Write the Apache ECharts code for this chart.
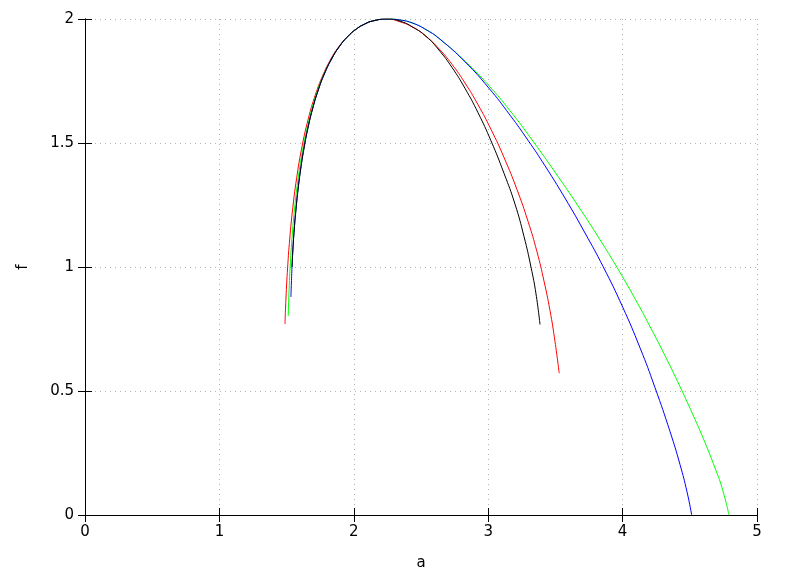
<!DOCTYPE html>
<html>
<head>
<meta charset="utf-8">
<script src="https://cdn.jsdelivr.net/npm/echarts@6/dist/echarts.min.js"></script>
<style>
html,body{margin:0;padding:0;background:#fff;}
#chart{width:788px;height:576px;}
</style>
</head>
<body>
<div id="chart"></div>
<script>
// tick values
const xTicks = [0, 1, 2, 3, 4, 5];
const yTicks = [0, 0.5, 1, 1.5, 2];

// curves: [a, f]
const redCurve = [
  [1.4882,0.7702],[1.4950,0.8710],[1.5079,1.0000],[1.5233,1.1129],[1.5451,1.2339],
  [1.5738,1.3548],[1.6113,1.4758],[1.6611,1.5968],[1.7161,1.6976],[1.7737,1.7782],
  [1.8293,1.8387],[1.8865,1.8871],[1.9513,1.9274],[2.0192,1.9597],[2.0815,1.9798],
  [2.1398,1.9919],[2.2470,2.0000],[2.3438,1.9886],[2.4405,1.9666],[2.5372,1.9302],
  [2.6339,1.8801],[2.7307,1.8172],[2.8274,1.7419],[2.9241,1.6546],[3.0208,1.5550],
  [3.1176,1.4418],[3.2143,1.3120],[3.2961,1.1845],[3.3631,1.0611],[3.4152,0.9431],
  [3.4598,0.8246],[3.4970,0.6996],[3.5283,0.5718]
];
const greenCurve = [
  [1.5121,0.8024],[1.5173,0.8911],[1.5264,1.0000],[1.5397,1.1129],[1.5592,1.2339],
  [1.5857,1.3548],[1.6210,1.4758],[1.6685,1.5968],[1.7216,1.6976],[1.7778,1.7782],
  [1.8345,1.8387],[1.8901,1.8871],[1.9513,1.9274],[2.0192,1.9597],[2.0815,1.9798],
  [2.1398,1.9919],[2.2470,2.0000],[2.3438,1.9960],[2.4405,1.9830],[2.5446,1.9548],
  [2.6414,1.9185],[2.8274,1.8298],[3.0037,1.7319],[3.1622,1.6302],[3.3333,1.5073],
  [3.4970,1.3827],[3.6682,1.2468],[3.8318,1.1101],[3.9583,0.9984],[4.0923,0.8722],
  [4.2039,0.7601],[4.3155,0.6423],[4.4271,0.5177],[4.5387,0.3855],[4.6131,0.2919],
  [4.6875,0.1899],[4.7396,0.1101],[4.7917,0.0000]
];
const blueCurve = [
  [1.5320,0.8790],[1.5357,0.9355],[1.5402,1.0000],[1.5470,1.0726],[1.5570,1.1532],
  [1.5699,1.2339],[1.5855,1.3145],[1.6048,1.3952],[1.6283,1.4758],[1.6572,1.5565],
  [1.6930,1.6371],[1.7382,1.7177],[1.7808,1.7782],[1.8345,1.8387],[1.8901,1.8871],
  [1.9513,1.9274],[2.0192,1.9597],[2.0815,1.9798],[2.1398,1.9919],[2.2470,2.0000],
  [2.3438,1.9960],[2.4405,1.9830],[2.5446,1.9548],[2.6414,1.9185],[2.8274,1.8274],
  [3.0037,1.7222],[3.1622,1.6125],[3.2961,1.5109],[3.4226,1.4081],[3.5938,1.2573],
  [3.7202,1.1371],[3.8564,1.0004],[4.0000,0.8391],[4.1295,0.6742],[4.2411,0.5137],
  [4.3527,0.3367],[4.4271,0.2036],[4.4792,0.0935],[4.5141,0.0000]
];
const blackCurve = [
  [1.5402,1.0000],[1.5470,1.0726],[1.5570,1.1532],[1.5699,1.2339],[1.5855,1.3145],
  [1.6048,1.3952],[1.6283,1.4758],[1.6572,1.5565],[1.6930,1.6371],[1.7382,1.7177],
  [1.7808,1.7782],[1.8345,1.8387],[1.8901,1.8871],[1.9513,1.9274],[2.0192,1.9597],
  [2.0815,1.9798],[2.1398,1.9919],[2.2470,2.0000],[2.3438,1.9916],[2.4405,1.9667],
  [2.5372,1.9301],[2.6339,1.8745],[2.7307,1.8045],[2.8274,1.7204],[2.9241,1.6223],
  [3.0208,1.5088],[3.1176,1.3778],[3.1994,1.2536],[3.2664,1.1229],[3.3185,0.9994],
  [3.3557,0.8915],[3.3854,0.7681]
];

const FONT = 'DejaVu Sans';
const chart = echarts.init(document.getElementById('chart'), null, {renderer: 'canvas'});

function xAx(pos, main) {
  return {
    type: 'value', position: pos, min: xTicks[0], max: xTicks[xTicks.length-1], interval: 1,
    axisLine: {show: true, lineStyle: {color: '#000', width: 1}},
    axisTick: {show: true, inside: true, length: 7, lineStyle: {color: '#000', width: 1}},
    axisLabel: {show: main, margin: 10, color: '#000', fontFamily: FONT, fontSize: 15},
    splitLine: {show: main, lineStyle: {color: '#b0b0b0', width: 1, type: [1, 4]}},
    name: main ? 'a' : '', nameLocation: 'middle', nameGap: 41,
    nameTextStyle: {color: '#000', fontFamily: FONT, fontSize: 15}
  };
}
function yAx(pos, main) {
  return {
    type: 'value', position: pos, min: yTicks[0], max: yTicks[yTicks.length-1], interval: 0.5,
    axisLine: {show: true, lineStyle: {color: '#000', width: 1}},
    axisTick: {show: true, inside: true, length: 7, lineStyle: {color: '#000', width: 1}},
    axisLabel: {show: main, margin: 11, color: '#000', fontFamily: FONT, fontSize: 15},
    splitLine: {show: main, lineStyle: {color: '#b0b0b0', width: 1, type: [1, 4]}},
    name: main ? 'f' : '', nameLocation: 'middle', nameGap: 54, nameRotate: 90,
    nameTextStyle: {color: '#000', fontFamily: FONT, fontSize: 15}
  };
}
function line(data, color) {
  return {
    type: 'line', data: data, xAxisIndex: 0, yAxisIndex: 0,
    showSymbol: false, symbol: 'none', smooth: 0.5,
    lineStyle: {color: color, width: 1}, itemStyle: {color: color},
    animation: false
  };
}

chart.setOption({
  animation: false,
  backgroundColor: '#fff',
  grid: {left: 85, top: 19, width: 672, height: 496, containLabel: false},
  xAxis: [xAx('bottom', true), xAx('top', false)],
  yAxis: [yAx('left', true), yAx('right', false)],
  series: [
    line(redCurve, '#ff0000'),
    line(greenCurve, '#00ff00'),
    line(blueCurve, '#0000ff'),
    line(blackCurve, '#000000')
  ]
});
</script>
</body>
</html>
